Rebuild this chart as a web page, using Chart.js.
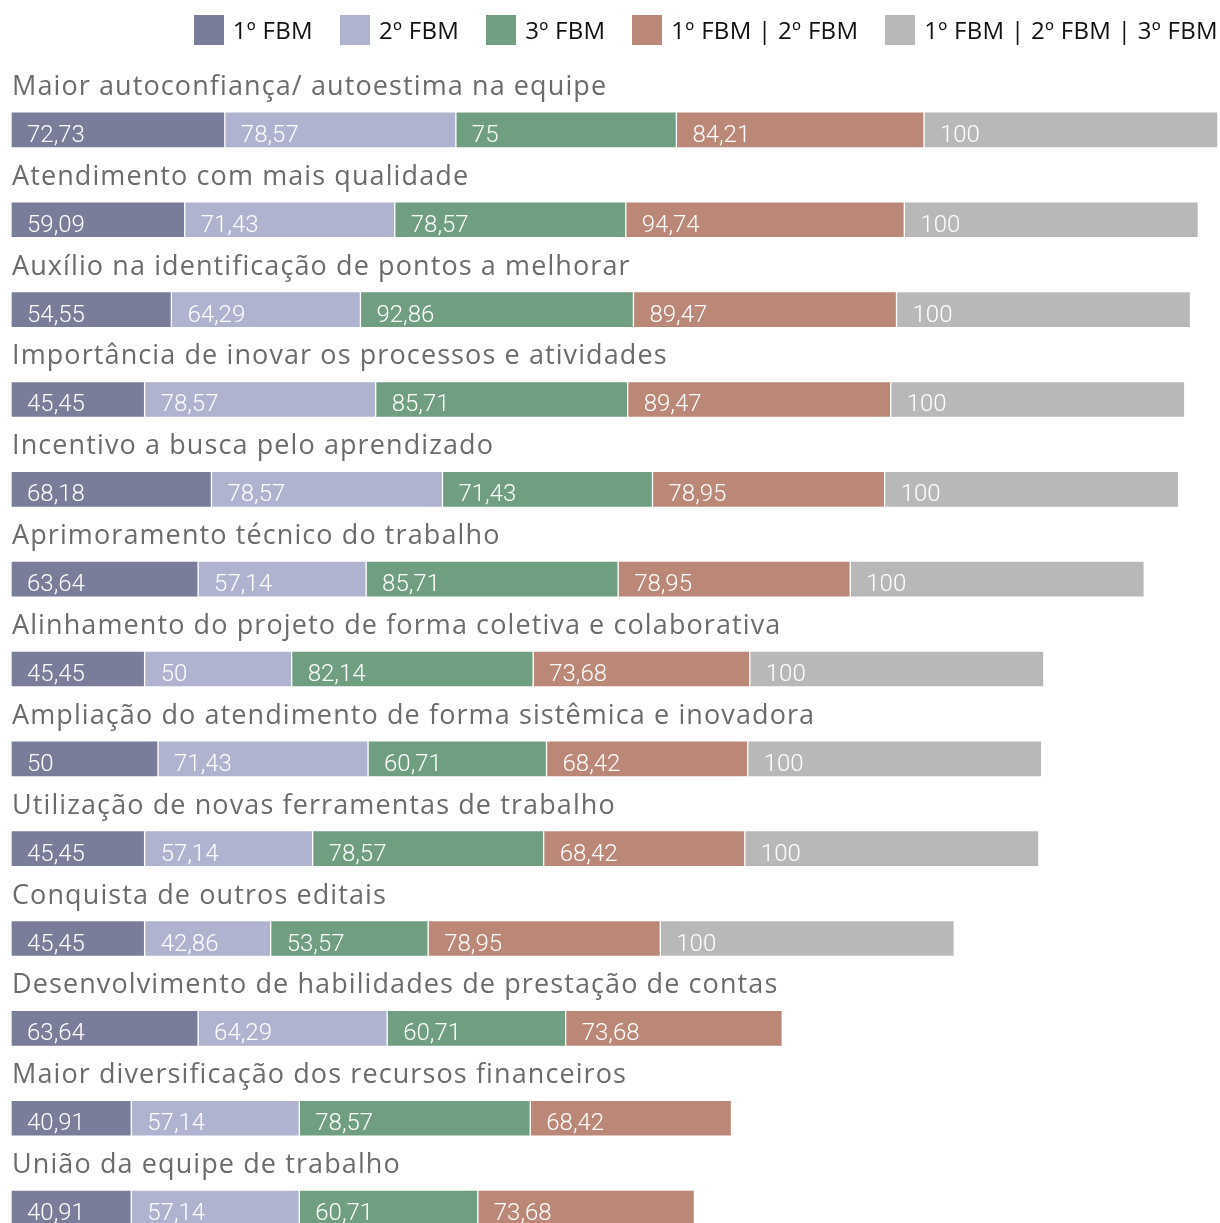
<!DOCTYPE html>
<html>
<head>
<meta charset="utf-8">
<script src="https://cdn.jsdelivr.net/npm/chart.js@4.4.1/dist/chart.umd.min.js"></script>
<style>
    html, body { margin: 0; padding: 0; background: #fff; overflow: hidden; }
    #wrap { position: relative; width: 1220px; height: 1223px; overflow: hidden; }
    #legend {
        position: absolute; top: 13px; right: 2px;
        display: flex; align-items: center; gap: 27px;
        font-family: "Open Sans", sans-serif; font-size: 24px; color: #111;
        letter-spacing: 0.3px;
    }
    #legend .item { display: flex; align-items: center; gap: 9px; }
    #legend .box { width: 30px; height: 30px; }
    #chartBox { position: absolute; left: 0; top: 0; width: 1220px; height: 1253px; }
</style>
</head>
<body>
<div id="wrap">
    <div id="chartBox"><canvas id="chart"></canvas></div>
    <div id="legend"></div>
</div>
<script>
// Categories (top to bottom)
const categories = [
    'Maior autoconfiança/ autoestima na equipe',
    'Atendimento com mais qualidade',
    'Auxílio na identificação de pontos a melhorar',
    'Importância de inovar os processos e atividades',
    'Incentivo a busca pelo aprendizado',
    'Aprimoramento técnico do trabalho',
    'Alinhamento do projeto de forma coletiva e colaborativa',
    'Ampliação do atendimento de forma sistêmica e inovadora',
    'Utilização de novas ferramentas de trabalho',
    'Conquista de outros editais',
    'Desenvolvimento de habilidades de prestação de contas',
    'Maior diversificação dos recursos financeiros',
    'União da equipe de trabalho'
];

const seriesNames = ['1º FBM', '2º FBM', '3º FBM', '1º FBM | 2º FBM', '1º FBM | 2º FBM | 3º FBM'];
const seriesColors = ['#7a7d99', '#afb3cf', '#6f9f80', '#bb8878', '#b9b8b9'];

const fbm1 = [72.73, 59.09, 54.55, 45.45, 68.18, 63.64, 45.45, 50, 45.45, 45.45, 63.64, 40.91, 40.91];
const fbm2 = [78.57, 71.43, 64.29, 78.57, 78.57, 57.14, 50, 71.43, 57.14, 42.86, 64.29, 57.14, 57.14];
const fbm3 = [75, 78.57, 92.86, 85.71, 71.43, 85.71, 82.14, 60.71, 78.57, 53.57, 60.71, 78.57, 60.71];
const fbm12 = [84.21, 94.74, 89.47, 89.47, 78.95, 78.95, 73.68, 68.42, 68.42, 78.95, 73.68, 68.42, 73.68];
const fbm123 = [100, 100, 100, 100, 100, 100, 100, 100, 100, 100, null, null, null];

const seriesValues = [fbm1, fbm2, fbm3, fbm12, fbm123];

// HTML legend
const legendEl = document.getElementById('legend');
seriesNames.forEach((name, i) => {
    const item = document.createElement('div');
    item.className = 'item';
    item.innerHTML = '<span class="box" style="background:' + seriesColors[i] + '"></span><span>' + name + '</span>';
    legendEl.appendChild(item);
});

const fmt = v => String(v).replace('.', ',');

// Category text above each bar + value labels inside segments
const labelPlugin = {
    id: 'barLabels',
    afterDatasetsDraw(chart) {
        const ctx = chart.ctx;
        const yScale = chart.scales.y;
        ctx.save();
        ctx.textAlign = 'left';
        ctx.textBaseline = 'alphabetic';

        ctx.fillStyle = '#6b6b6b';
        ctx.font = '27px "Open Sans", sans-serif';
        ctx.letterSpacing = '1.1px';
        categories.forEach((c, i) => {
            const y = yScale.getPixelForValue(i);
            ctx.fillText(c, 12, y - 35);
        });

        ctx.letterSpacing = '0px';
        ctx.fillStyle = '#ffffff';
        ctx.font = '300 24px Roboto, sans-serif';
        chart.data.datasets.forEach((ds, di) => {
            const meta = chart.getDatasetMeta(di);
            meta.data.forEach((el, i) => {
                const v = ds.data[i];
                if (v === null || v === undefined) return;
                ctx.fillText(fmt(v), el.base + 16, el.y + 12);
            });
        });
        ctx.restore();
    }
};

const maxTotal = Math.max(...categories.map((_, i) =>
    seriesValues.reduce((s, arr) => s + (arr[i] || 0), 0)));

new Chart(document.getElementById('chart').getContext('2d'), {
    type: 'bar',
    data: {
        labels: categories,
        datasets: seriesNames.map((name, i) => ({
            label: name,
            data: seriesValues[i],
            backgroundColor: seriesColors[i],
            borderColor: '#ffffff',
            borderWidth: 1,
            borderSkipped: false,
            barThickness: 36
        }))
    },
    options: {
        indexAxis: 'y',
        responsive: true,
        maintainAspectRatio: false,
        animation: false,
        layout: { padding: { left: 11, right: 2, top: 85, bottom: 0 } },
        scales: {
            x: { stacked: true, display: false, min: 0, max: maxTotal },
            y: { stacked: true, display: false }
        },
        plugins: {
            legend: { display: false },
            tooltip: { enabled: false }
        }
    },
    plugins: [labelPlugin]
});
</script>
</body>
</html>
